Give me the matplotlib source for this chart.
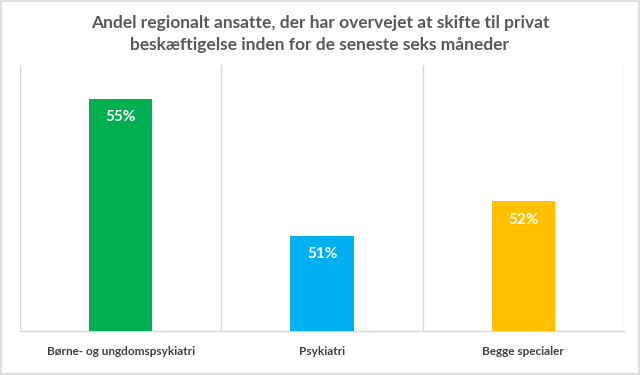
import matplotlib
matplotlib.use("Agg")
import matplotlib.pyplot as plt
from matplotlib.patches import Rectangle

categories = ["Børne- og ungdomspsykiatri", "Psykiatri", "Begge specialer"]
values = [55, 51, 52]
labels = ["55%", "51%", "52%"]
colors = ["#00B050", "#00B0F0", "#FFC000"]
title = "Andel regionalt ansatte, der har overvejet at skifte til privat\nbeskæftigelse inden for de seneste seks måneder"

plt.rcParams['font.family'] = ['Lato', 'DejaVu Sans']

fig = plt.figure(figsize=(6.4, 3.75), dpi=100)
fig.patches.append(Rectangle((0.001, 0.002), 0.997, 0.995, transform=fig.transFigure,
                             fill=False, edgecolor="#d9d9d9", linewidth=1.2))
ax = fig.add_axes([20/640, 1-331/375, (624-20)/640, (331-65)/375])

x = range(len(categories))
bars = ax.bar(x, values, width=0.315, color=colors, zorder=3)
ax.set_ylim(48.2, 56.0)
ax.set_xlim(-0.5, 2.5)

for xi, v, lab in zip(x, values, labels):
    ax.annotate(lab, (xi, v), xytext=(0, -8), textcoords="offset points",
                ha="center", va="top", color="white", fontsize=11, fontweight="bold")

ax.set_xticks(list(x))
ax.set_xticklabels(categories, fontsize=8.5, color="#404040", fontweight="bold")
ax.tick_params(axis="x", length=0, pad=11)
ax.set_yticks([])
ax.set_xticks([-0.5, 0.5, 1.5, 2.5], minor=True)
ax.tick_params(axis="x", which="minor", length=0)
ax.grid(True, axis="x", which="minor", color="#d9d9d9", linewidth=1)
for s in ["left", "right", "top"]:
    ax.spines[s].set_visible(False)
ax.spines["bottom"].set_color("#d9d9d9")
ax.spines["bottom"].set_linewidth(1)

fig.text(0.5, 1-34/375, title, ha="center", va="center", fontsize=12.5,
         fontweight="bold", color="#595959", linespacing=1.45)

fig.savefig("out.png", dpi=100)
